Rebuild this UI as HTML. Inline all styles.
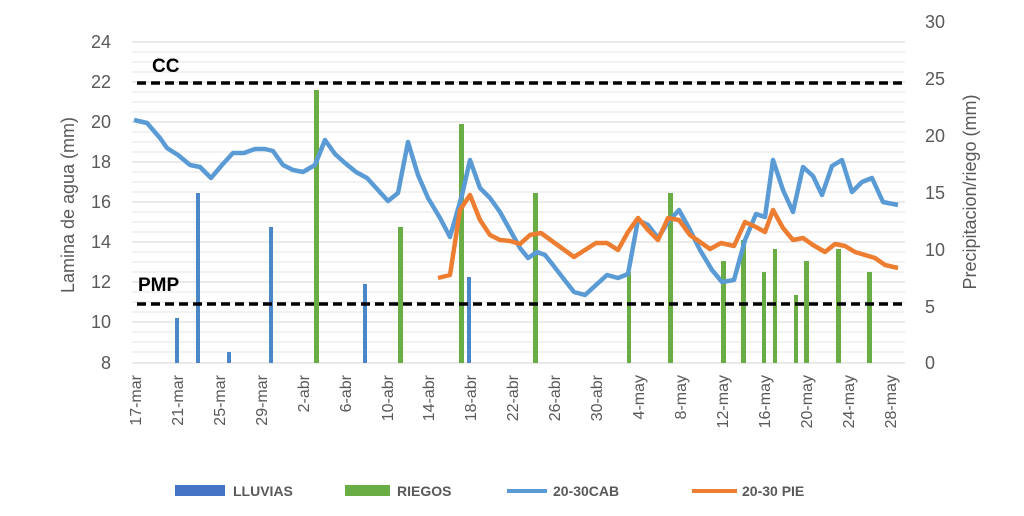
<!DOCTYPE html>
<html><head><style>body{margin:0;background:#fff}svg{display:block}</style></head><body>
<svg width="1024" height="516" xmlns="http://www.w3.org/2000/svg" font-family="Liberation Sans, sans-serif">
<g stroke="#e6e6e6" stroke-width="1">
<line x1="132" x2="905" y1="52" y2="52"/><line x1="132" x2="905" y1="62" y2="62"/><line x1="132" x2="905" y1="72" y2="72"/>
<line x1="132" x2="905" y1="92" y2="92"/><line x1="132" x2="905" y1="102" y2="102"/><line x1="132" x2="905" y1="112" y2="112"/>
<line x1="132" x2="905" y1="132" y2="132"/><line x1="132" x2="905" y1="142" y2="142"/><line x1="132" x2="905" y1="152" y2="152"/>
<line x1="132" x2="905" y1="172" y2="172"/><line x1="132" x2="905" y1="182" y2="182"/><line x1="132" x2="905" y1="192" y2="192"/>
<line x1="132" x2="905" y1="212" y2="212"/><line x1="132" x2="905" y1="222" y2="222"/><line x1="132" x2="905" y1="232" y2="232"/>
<line x1="132" x2="905" y1="252" y2="252"/><line x1="132" x2="905" y1="262" y2="262"/><line x1="132" x2="905" y1="272" y2="272"/>
<line x1="132" x2="905" y1="292" y2="292"/><line x1="132" x2="905" y1="302" y2="302"/><line x1="132" x2="905" y1="312" y2="312"/>
<line x1="132" x2="905" y1="332" y2="332"/><line x1="132" x2="905" y1="342" y2="342"/><line x1="132" x2="905" y1="352" y2="352"/>
</g>
<g stroke="#d4d4d4" stroke-width="1">
<line x1="132" x2="905" y1="42" y2="42"/><line x1="132" x2="905" y1="82" y2="82"/><line x1="132" x2="905" y1="122" y2="122"/>
<line x1="132" x2="905" y1="162" y2="162"/><line x1="132" x2="905" y1="202" y2="202"/><line x1="132" x2="905" y1="242" y2="242"/>
<line x1="132" x2="905" y1="282" y2="282"/><line x1="132" x2="905" y1="322" y2="322"/><line x1="132" x2="905" y1="363" y2="363"/>
</g>
<g fill="#595959" font-size="18" text-anchor="end">
<text x="111" y="48">24</text><text x="111" y="88">22</text><text x="111" y="128">20</text><text x="111" y="168">18</text>
<text x="111" y="208">16</text><text x="111" y="248">14</text><text x="111" y="288">12</text><text x="111" y="328">10</text><text x="111" y="369">8</text>
</g>
<g fill="#595959" font-size="18" text-anchor="start">
<text x="925" y="28">30</text><text x="925" y="85">25</text><text x="925" y="142">20</text><text x="925" y="199">15</text>
<text x="925" y="256">10</text><text x="925" y="313">5</text><text x="925" y="369">0</text>
</g>
<text transform="translate(74,205) rotate(-90)" text-anchor="middle" fill="#595959" font-size="18">Lamina de agua (mm)</text>
<text transform="translate(976,192) rotate(-90)" text-anchor="middle" fill="#595959" font-size="18">Precipitacion/riego (mm)</text>
<g fill="#4a86c8">
<rect x="175" y="318" width="4" height="45"/><rect x="196" y="193" width="4" height="170"/><rect x="227" y="352" width="4" height="11"/>
<rect x="269" y="227" width="4" height="136"/><rect x="363" y="284" width="4" height="79"/><rect x="467" y="277" width="4" height="86"/>
</g>
<g fill="#6aad45">
<rect x="314" y="90" width="5" height="273"/><rect x="398" y="227" width="5" height="136"/><rect x="459" y="124" width="5" height="239"/>
<rect x="533" y="193" width="5" height="170"/><rect x="627" y="272" width="4" height="91"/><rect x="668" y="193" width="5" height="170"/>
<rect x="721" y="261" width="5" height="102"/><rect x="741" y="240" width="5" height="123"/><rect x="762" y="272" width="4" height="91"/>
<rect x="773" y="249" width="4" height="114"/><rect x="794" y="295" width="4" height="68"/><rect x="804" y="261" width="5" height="102"/>
<rect x="836" y="249" width="5" height="114"/><rect x="867" y="272" width="5" height="91"/>
</g>
<g stroke="#000" stroke-width="3.5" stroke-dasharray="9,5">
<line x1="137" x2="902" y1="83" y2="83"/><line x1="137" x2="902" y1="304" y2="304"/>
</g>
<text x="152" y="72" font-size="19" font-weight="bold">CC</text>
<text x="138" y="291" font-size="19" font-weight="bold">PMP</text>
<polyline fill="none" stroke="#5b9bd5" stroke-width="4.5" stroke-linejoin="round" points="134,120 147,123 160,138 167,148 178,155 190,165 200,167 211,178 222,165 233,153 244,153 255,149 265,149 273,151 283,165 293,170 303,172 315,165 325,140 335,154 345,163 356,172 367,178 378,190 388,201 398,193 408,142 418,175 428,198 440,218 450,237 462,195 470,160 480,188 490,198 500,212 510,230 520,248 528,258 537,252 545,255 553,265 563,278 574,292 585,295 596,285 607,275 618,278 628,274 638,220 648,225 658,238 668,222 679,210 690,230 700,250 712,270 722,282 734,280 745,240 756,214 765,217 773,160 783,190 793,212 803,167 813,176 822,195 832,166 842,160 852,192 862,182 872,178 883,202 898,205"/>
<polyline fill="none" stroke="#ed7d31" stroke-width="4.5" stroke-linejoin="round" points="438,278 450,275 460,210 470,195 480,220 490,235 500,240 510,241 520,244 530,235 541,233 552,241 563,249 574,257 585,250 596,243 607,243 618,250 628,232 638,218 648,230 658,240 668,218 679,220 690,235 700,242 710,249 721,243 734,246 745,222 756,227 765,232 773,210 783,228 793,240 803,238 813,245 825,252 835,244 845,246 855,252 865,255 875,258 885,265 898,268"/>
<g fill="#595959" font-size="16" text-anchor="end">
<text transform="translate(141,375) rotate(-90)">17-mar</text><text transform="translate(183,375) rotate(-90)">21-mar</text>
<text transform="translate(225,375) rotate(-90)">25-mar</text><text transform="translate(267,375) rotate(-90)">29-mar</text>
<text transform="translate(309,375) rotate(-90)">2-abr</text><text transform="translate(351,375) rotate(-90)">6-abr</text>
<text transform="translate(393,375) rotate(-90)">10-abr</text><text transform="translate(434,375) rotate(-90)">14-abr</text>
<text transform="translate(476,375) rotate(-90)">18-abr</text><text transform="translate(518,375) rotate(-90)">22-abr</text>
<text transform="translate(560,375) rotate(-90)">26-abr</text><text transform="translate(602,375) rotate(-90)">30-abr</text>
<text transform="translate(644,375) rotate(-90)">4-may</text><text transform="translate(686,375) rotate(-90)">8-may</text>
<text transform="translate(728,375) rotate(-90)">12-may</text><text transform="translate(770,375) rotate(-90)">16-may</text>
<text transform="translate(812,375) rotate(-90)">20-may</text><text transform="translate(854,375) rotate(-90)">24-may</text>
<text transform="translate(896,375) rotate(-90)">28-may</text>
</g>
<rect x="175" y="485" width="50" height="11" fill="#4472c4"/>
<text x="233" y="496" font-size="14" font-weight="bold" fill="#595959">LLUVIAS</text>
<rect x="345" y="485" width="45" height="11" fill="#6aad45"/>
<text x="397" y="496" font-size="14" font-weight="bold" fill="#595959">RIEGOS</text>
<line x1="507" x2="547" y1="491" y2="491" stroke="#5b9bd5" stroke-width="4"/>
<text x="553" y="496" font-size="14" font-weight="bold" fill="#595959">20-30CAB</text>
<line x1="692" x2="737" y1="491" y2="491" stroke="#ed7d31" stroke-width="4"/>
<text x="742" y="496" font-size="14" font-weight="bold" fill="#595959">20-30 PIE</text>
</svg>
</body></html>
